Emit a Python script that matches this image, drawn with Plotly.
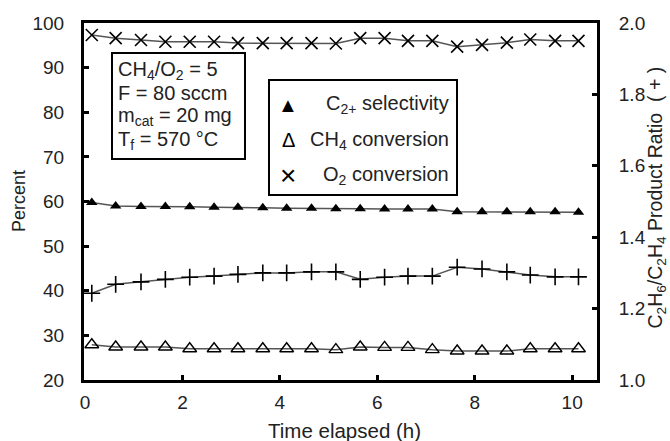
import plotly.graph_objects as go

# Time (h)
time_h = [0.14, 0.63, 1.15, 1.65, 2.15, 2.65, 3.14, 3.65, 4.14, 4.65, 5.15,
          5.65, 6.15, 6.63, 7.13, 7.64, 8.15, 8.66, 9.14, 9.65, 10.13]
# Percent series
c2_selectivity = [59.8, 59.0, 58.9, 58.9, 58.8, 58.7, 58.7, 58.6, 58.5, 58.5, 58.4,
                  58.4, 58.3, 58.3, 58.3, 57.7, 57.7, 57.7, 57.7, 57.7, 57.6]
ch4_conversion = [27.9, 27.4, 27.4, 27.4, 27.0, 27.0, 27.0, 27.0, 27.0, 27.0, 26.8,
                  27.4, 27.3, 27.3, 26.8, 26.5, 26.5, 26.5, 27.0, 27.0, 27.0]
o2_conversion = [97.3, 96.6, 96.2, 95.8, 95.8, 95.8, 95.5, 95.5, 95.5, 95.5, 95.4,
                 96.6, 96.6, 96.0, 96.0, 94.7, 95.1, 95.6, 96.3, 96.0, 96.0]
# C2H6/C2H4 ratio (right axis)
ratio = [1.243, 1.268, 1.275, 1.282, 1.288, 1.291, 1.296, 1.300, 1.300, 1.303, 1.303,
         1.282, 1.288, 1.291, 1.291, 1.316, 1.311, 1.303, 1.294, 1.289, 1.289]

x_ticks = [0, 2, 4, 6, 8, 10]
y_ticks = [20, 30, 40, 50, 60, 70, 80, 90, 100]
y2_ticks = [1.0, 1.2, 1.4, 1.6, 1.8, 2.0]

condition_lines = ["CH<sub>4</sub>/O<sub>2</sub> = 5", "F = 80 sccm",
                   "m<sub>cat</sub> = 20 mg", "T<sub>f</sub> = 570 °C"]

FONT = "Liberation Sans, Arial, sans-serif"
TXT = "#222222"
LINE = "#555555"

fig = go.Figure()

def add(y, symbol, size, yaxis="y", lw=1.5):
    fig.add_trace(go.Scatter(
        x=time_h, y=y, mode="lines+markers", yaxis=yaxis,
        line=dict(color=LINE, width=1.5),
        marker=dict(symbol=symbol, size=size, color="black",
                    line=dict(color="black", width=lw)),
        showlegend=False, cliponaxis=False))

add(o2_conversion, "x-thin", 12, lw=1.6)
add(c2_selectivity, "triangle-up", 10, lw=0)
add(ch4_conversion, "triangle-up-open", 12, lw=1.4)
add(ratio, "cross-thin", 12, yaxis="y2", lw=1.6)

axis_common = dict(showgrid=False, zeroline=False, showline=True, linecolor="black",
                   linewidth=3, ticks="inside", ticklen=5, tickwidth=3, tickcolor="black",
                   tickfont=dict(family=FONT, size=19, color=TXT))

fig.update_layout(
    width=670, height=441,
    margin=dict(l=84, r=73, t=23, b=61),
    paper_bgcolor="white", plot_bgcolor="white",
    font=dict(family=FONT, color=TXT),
    xaxis=dict(range=[-0.02, 10.51], tickvals=x_ticks, mirror=True,
               ticklabelstandoff=3, **axis_common),
    yaxis=dict(range=[20, 100], tickvals=y_ticks, ticklabelstandoff=13, **axis_common),
    yaxis2=dict(range=[1.0, 2.0], tickvals=y2_ticks, tickformat=".1f", overlaying="y",
                side="right", ticklabelstandoff=15, **axis_common),
)

def px(xp):
    return (xp - 84) / 513.0

def py(yp):
    return (380 - yp) / 357.0

# condition box
fig.add_shape(type="rect", xref="paper", yref="paper",
              x0=px(112), x1=px(245), y0=py(159), y1=py(53),
              line=dict(color="black", width=2), fillcolor="white")
for line_text, yy in zip(condition_lines, [70, 93.5, 117, 140]):
    fig.add_annotation(xref="paper", yref="paper", x=px(116), y=py(yy),
                       xanchor="left", yanchor="middle", align="left", showarrow=False,
                       text=line_text, font=dict(family=FONT, size=20, color=TXT))

# legend box
fig.add_shape(type="rect", xref="paper", yref="paper",
              x0=px(269), x1=px(457), y0=py(195), y1=py(80),
              line=dict(color="black", width=2), fillcolor="white")
legend_rows = [("▲", 20, "C<sub>2+</sub> selectivity", 105),
               ("Δ", 20, "CH<sub>4</sub> conversion", 140),
               ("×", 28, "O<sub>2</sub> conversion", 175)]
for sym, ssize, label, yy in legend_rows:
    fig.add_annotation(xref="paper", yref="paper", x=px(288), y=py(yy),
                       xanchor="center", yanchor="middle", showarrow=False,
                       text=sym, font=dict(family=FONT, size=ssize, color="black"))
    fig.add_annotation(xref="paper", yref="paper", x=px(451), y=py(yy),
                       xanchor="right", yanchor="middle", showarrow=False,
                       text=label, font=dict(family=FONT, size=20, color=TXT))

# axis titles
fig.add_annotation(xref="paper", yref="paper", x=px(344), y=py(430),
                   xanchor="center", yanchor="middle", showarrow=False,
                   text="Time elapsed (h)", font=dict(family=FONT, size=20.5, color=TXT))
fig.add_annotation(xref="paper", yref="paper", x=px(19), y=py(201),
                   xanchor="center", yanchor="middle", showarrow=False, textangle=-90,
                   text="Percent", font=dict(family=FONT, size=18, color=TXT))
fig.add_annotation(xref="paper", yref="paper", x=px(670), y=py(198),
                   xanchor="right", yanchor="middle", showarrow=False, textangle=-90,
                   text="C<sub>2</sub>H<sub>6</sub>/C<sub>2</sub>H<sub>4</sub> Product Ratio  ( + )",
                   font=dict(family=FONT, size=19.5, color=TXT))

fig.write_html("out.html")
